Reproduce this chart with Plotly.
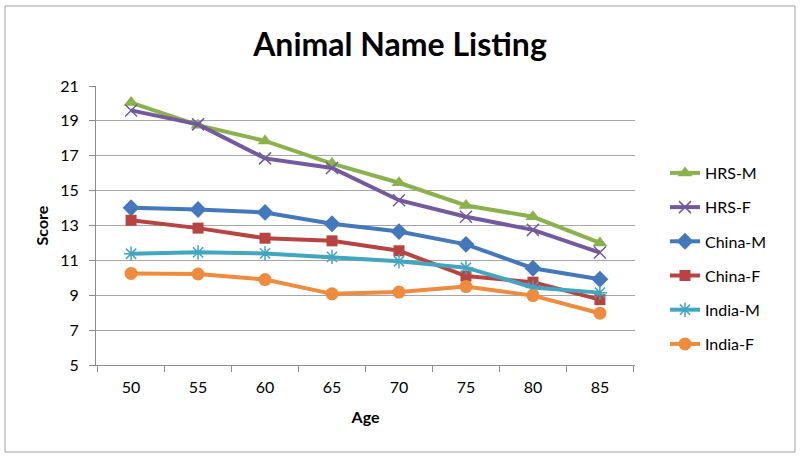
import plotly.graph_objects as go

ages = ["50", "55", "60", "65", "70", "75", "80", "85"]
hrs_m = [20.05, 18.75, 17.85, 16.55, 15.45, 14.15, 13.5, 12.0]
hrs_f = [19.6, 18.8, 16.85, 16.3, 14.45, 13.5, 12.75, 11.45]
china_m = [14.02, 13.92, 13.75, 13.1, 12.65, 11.92, 10.55, 9.92]
china_f = [13.3, 12.85, 12.27, 12.12, 11.55, 10.1, 9.75, 8.75]
india_m = [11.38, 11.46, 11.4, 11.2, 10.95, 10.58, 9.45, 9.15]
india_f = [10.25, 10.22, 9.9, 9.08, 9.18, 9.5, 8.98, 7.97]

series = [
    ("HRS-M", hrs_m, "#8BB14C", "triangle-up", 13),
    ("HRS-F", hrs_f, "#735A9E", "x-thin-open", 12),
    ("China-M", china_m, "#4478BC", "diamond", 13),
    ("China-F", china_f, "#B84441", "square", 11),
    ("India-M", india_m, "#41A6C0", "asterisk-open", 12),
    ("India-F", india_f, "#EE8B3C", "circle", 13),
]

fig = go.Figure()
for i, (name, vals, color, sym, size) in enumerate(series):
    fig.add_trace(go.Scatter(
        x=ages, y=vals, name=name, mode="lines+markers",
        legendgroup=str(i),
        line=dict(color=color, width=4),
        marker=dict(symbol=sym, size=size, color=color,
                    line=dict(color=color, width=1.5 if "open" in sym else 0)),
    ))

L, R, T, B = 96, 165, 86, 95
pw = 800 - L - R
ph = 460 - T - B

fig.update_layout(
    width=800, height=460,
    margin=dict(l=L, r=R, t=T, b=B),
    paper_bgcolor="white", plot_bgcolor="white",
    font=dict(family="Lato, Open Sans, sans-serif", size=16, color="#000"),
    title=dict(text="<b>Animal Name Listing</b>", x=0.5, xanchor="center",
               y=1 - 45 / 460, yanchor="middle",
               font=dict(size=32, family="Lato, Open Sans, sans-serif", color="#000")),
    legend=dict(x=(665 - L) / pw, xanchor="left", y=(T + ph - 258.5) / ph, yanchor="middle",
                font=dict(size=16), tracegroupgap=10.4, traceorder="grouped",
                bgcolor="rgba(0,0,0,0)"),
    xaxis=dict(
        title=dict(text="<b>Age</b>", font=dict(size=16), standoff=16),
        type="category", showgrid=False, showline=True, linecolor="#8C8C8C",
        linewidth=1, ticks="outside", tickson="boundaries", ticklen=6,
        tickcolor="#8C8C8C", tickfont=dict(size=16), ticklabelstandoff=8,
    ),
    yaxis=dict(
        title=dict(text="<b>Score</b>", font=dict(size=16), standoff=7),
        range=[5, 21], tickvals=[5, 7, 9, 11, 13, 15, 17, 19, 21],
        showgrid=True, gridcolor="#A6A6A6", gridwidth=1,
        showline=True, linecolor="#8C8C8C", linewidth=1,
        ticks="outside", ticklen=6, tickcolor="#8C8C8C", tickfont=dict(size=16),
        ticklabelstandoff=7, zeroline=False,
    ),
    shapes=[dict(type="rect", xref="paper", yref="paper",
                 x0=(5 - L) / pw, x1=(795 - L) / pw,
                 y0=(T + ph - 452) / ph, y1=(T + ph - 6) / ph,
                 line=dict(color="#A0A0A0", width=1), layer="below")],
)

fig.write_html("out.html", config={"displayModeBar": False},
               post_script="document.body.style.margin='0';")
